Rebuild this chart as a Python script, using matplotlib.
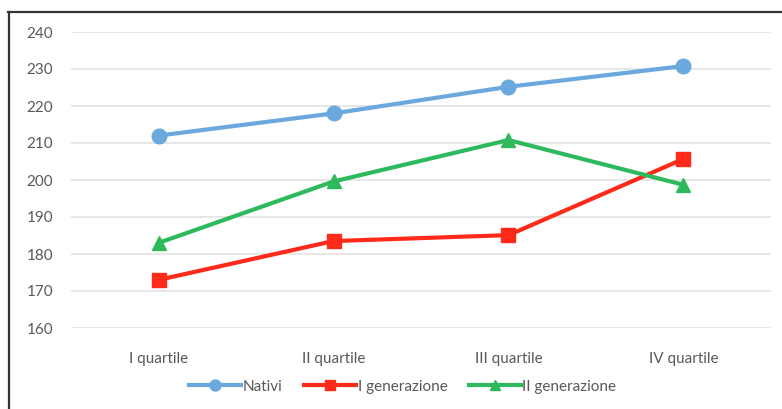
import matplotlib
matplotlib.use('Agg')
import matplotlib.pyplot as plt
from matplotlib.lines import Line2D

matplotlib.rcParams['font.family'] = ['Lato', 'DejaVu Sans']

# dati
categories = ['I quartile', 'II quartile', 'III quartile', 'IV quartile']
nativi = [212, 218, 225.2, 230.8]
gen_1 = [173, 183.5, 185.1, 205.7]
gen_2 = [183, 199.6, 210.8, 198.7]

W, H = 782, 409
fig = plt.figure(figsize=(W / 100, H / 100), dpi=100)
ax = fig.add_axes([71 / W, 1 - 328 / H, 700 / W, 296 / H])

x = list(range(len(categories)))
ax.plot(x, nativi, color='#6AA8DE', lw=3, marker='o', ms=10.5, label='Nativi')
ax.plot(x, gen_1, color='#FF2A1A', lw=3, marker='s', ms=9.5, label='I generazione')
ax.plot(x, gen_2, color='#2EBA5C', lw=3, marker='^', ms=10.5, label='II generazione')

ax.set_xlim(-0.5, 3.5)
ax.set_ylim(160, 240)
ax.set_yticks(range(160, 241, 10))
ax.set_xticks(x)
ax.set_xticklabels(categories)
ax.tick_params(length=0, labelsize=11, labelcolor='#595959')
ax.tick_params(axis='y', pad=13)
ax.tick_params(axis='x', pad=17)
for s in ax.spines.values():
    s.set_visible(False)
ax.grid(axis='y', color='#E3E3E3', lw=1.2)
ax.set_axisbelow(True)

ax.legend(loc='upper center', bbox_to_anchor=(0.474, -0.128), ncol=3, frameon=False,
          fontsize=11, labelcolor='#595959', handlelength=3.4, handletextpad=0.1,
          columnspacing=1.4, markerscale=0.75)

# bordo (solo sinistra e sopra)
fig.add_artist(Line2D([8.5 / W, 8.5 / W], [0, 1 - 12 / H], color='#333333', lw=1.6))
fig.add_artist(Line2D([8 / W, 1], [1 - 12 / H, 1 - 12 / H], color='#333333', lw=1.6))

plt.savefig('out.png', dpi=100)
plt.close()
